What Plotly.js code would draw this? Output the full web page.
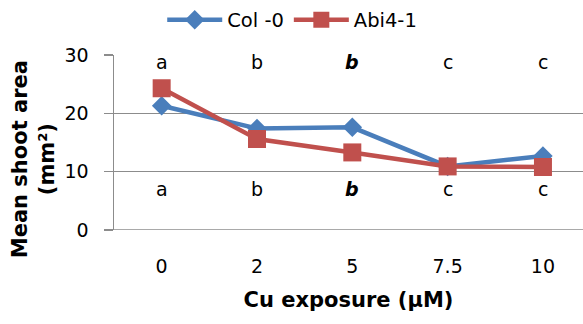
<!DOCTYPE html>
<html>
<head>
<meta charset="utf-8">
<script src="https://cdn.plot.ly/plotly-3.0.1.min.js"></script>
<style>
  html, body { margin: 0; padding: 0; background: #fff; }
  #chart { width: 583px; height: 324px; }
</style>
</head>
<body>
<div id="chart"></div>
<script>
// Cu exposure levels (µM) shown as categories
const categories = ['0', '2', '5', '7.5', '10'];

// Mean shoot area (mm²) per genotype
const col0Values = [21.3, 17.4, 17.6, 10.9, 12.7];
const abi41Values = [24.3, 15.6, 13.3, 10.9, 10.8];

// Standard errors
const col0Err = [0.4, 0.5, 0.5, 0.3, 0.5];
const abi41Err = [0.4, 0.4, 0.4, 0.3, 0.3];

// Significance letters (upper row: Col -0, lower row: Abi4-1)
const upperLetters = ['a', 'b', '<b><i>b</i></b>', 'c', 'c'];
const lowerLetters = ['a', 'b', '<b><i>b</i></b>', 'c', 'c'];
const upperLetterY = 28.8;
const lowerLetterY = 7.1;

const FONT = 'DejaVu Sans, Verdana, sans-serif';
const GRID = '#8c8c8c';

const traces = [
  {
    name: 'Col -0',
    x: categories,
    y: col0Values,
    type: 'scatter',
    mode: 'lines+markers',
    line: { color: '#4a7ebb', width: 4.5 },
    marker: { symbol: 'diamond', size: 15, color: '#4a7ebb' },
    error_y: { type: 'data', array: col0Err, visible: true, color: '#000', thickness: 1.5, width: 3 }
  },
  {
    name: 'Abi4-1',
    x: categories,
    y: abi41Values,
    type: 'scatter',
    mode: 'lines+markers',
    line: { color: '#c0504d', width: 4.5 },
    marker: { symbol: 'square', size: 18, color: '#c0504d' },
    error_y: { type: 'data', array: abi41Err, visible: true, color: '#000', thickness: 1.5, width: 3 }
  }
];

// letters placed by category index so numeric-looking labels are not misread
const annotations = [];
categories.forEach((c, i) => {
  annotations.push({ x: i, y: upperLetterY, text: upperLetters[i], showarrow: false,
    font: { family: FONT, size: 19, color: '#000' } });
  annotations.push({ x: i, y: lowerLetterY, text: lowerLetters[i], showarrow: false,
    font: { family: FONT, size: 19, color: '#000' } });
});

// vertical axis title, centred on the whole chart height
annotations.push({
  xref: 'paper', yref: 'paper', x: -0.1727, y: 0.4045,
  xanchor: 'center', yanchor: 'middle', textangle: -90, showarrow: false,
  text: '<b>Mean shoot area<br>(mm²)</b>',
  font: { family: FONT, size: 21, color: '#000' }
});

const layout = {
  width: 583,
  height: 324,
  margin: { l: 114, r: 0, t: 52, b: 94 },
  paper_bgcolor: '#fff',
  plot_bgcolor: '#fff',
  font: { family: FONT, size: 19, color: '#000' },
  showlegend: true,
  legend: {
    orientation: 'h',
    x: 0.38, xanchor: 'center',
    y: 1.2, yanchor: 'middle',
    font: { family: FONT, size: 19.5, color: '#000' },
    itemwidth: 55,
    tracegroupgap: 0
  },
  xaxis: {
    type: 'category',
    range: [-0.5, 4.42],
    showgrid: false,
    zeroline: false,
    showline: false,
    ticks: '',
    ticklabelstandoff: 23,
    tickfont: { family: FONT, size: 19, color: '#000' },
    title: { text: '<b>Cu exposure (µM)</b>', font: { family: FONT, size: 21, color: '#000' }, standoff: 16 }
  },
  yaxis: {
    range: [0, 30],
    dtick: 10,
    showgrid: true,
    gridcolor: GRID,
    gridwidth: 1.5,
    zeroline: false,
    showline: true,
    linecolor: GRID,
    linewidth: 1.5,
    ticks: 'outside',
    ticklen: 9,
    tickcolor: GRID,
    tickwidth: 1.5,
    ticklabelstandoff: 11,
    tickfont: { family: FONT, size: 19, color: '#000' }
  },
  shapes: [
    // horizontal axis line at zero, extended to the left like the tick marks
    { type: 'line', xref: 'paper', yref: 'y', x0: -0.019, x1: 1, y0: 0, y1: 0,
      line: { color: GRID, width: 1.5 } }
  ],
  annotations: annotations
};

Plotly.newPlot('chart', traces, layout, { displayModeBar: false, staticPlot: true });
</script>
</body>
</html>
